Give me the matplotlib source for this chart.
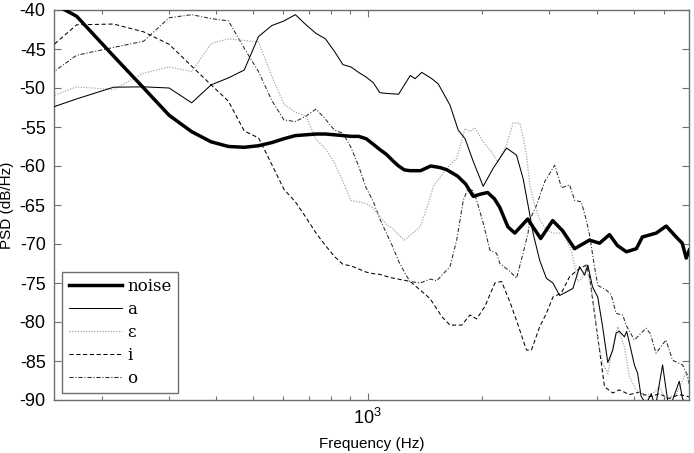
import matplotlib
matplotlib.use('Agg')
import matplotlib.pyplot as plt
from matplotlib.ticker import FixedLocator, NullFormatter

plt.rcParams['font.family'] = ['Liberation Sans', 'DejaVu Sans']
plt.rcParams['axes.unicode_minus'] = False

# ---- data (frequency in Hz, PSD in dB/Hz) ----
freq_noise = [129, 172, 215, 258, 301, 345, 388, 431, 474, 517, 560, 603, 646, 689, 732, 775, 818, 861, 904, 947,
              991, 1034, 1077, 1120, 1163, 1206, 1249, 1292, 1378, 1464, 1550, 1617, 1723, 1809, 1895, 1981, 2067,
              2153, 2224, 2336, 2436, 2634, 2849, 3063, 3253, 3498, 3828, 4067, 4318, 4532, 4784, 5082, 5270, 5732,
              6088, 6465, 6707, 6871, 6997]
psd_noise = [-37.5, -40.8, -45.9, -50.0, -53.5, -55.6, -56.9, -57.5, -57.6, -57.4, -57.0, -56.5, -56.1, -56.0, -55.9,
             -55.9, -56.0, -56.1, -56.2, -56.2, -56.5, -57.2, -57.9, -58.5, -59.3, -60.0, -60.5, -60.6, -60.6, -60.0,
             -60.2, -60.5, -61.3, -62.3, -63.9, -63.6, -63.4, -64.2, -65.3, -67.8, -68.6, -66.8, -69.3, -67.0, -68.3,
             -70.6, -69.5, -69.9, -68.8, -70.2, -71.0, -70.6, -69.1, -68.6, -67.7, -69.1, -69.9, -71.8, -70.8]

freq_a = [129, 172, 215, 258, 301, 345, 388, 431, 474, 517, 560, 603, 646, 689, 732, 775, 818, 861, 904, 947,
          991, 1034, 1077, 1124, 1206, 1294, 1333, 1388, 1474, 1534, 1646, 1730, 1803, 1894, 2012, 2137, 2317, 2461,
          2561, 2639, 2720, 2832, 2949, 3068, 3195, 3313, 3462, 3605, 3716, 3789, 3898, 4024, 4140, 4276, 4406, 4497,
          4587, 4727, 4793, 4921, 5021, 5122, 5228, 5388, 5563, 5699, 5955, 6138, 6276, 6587, 6719, 6869, 6995]
psd_a = [-53.5, -51.4, -49.9, -49.85, -50.0, -51.9, -49.6, -48.7, -47.7, -43.4, -42.0, -41.4, -40.6, -41.9, -43.0,
         -43.7, -45.3, -47.0, -47.3, -48.0, -48.6, -49.3, -50.6, -50.7, -50.8, -48.4, -48.8, -48.0, -48.8, -49.5,
         -52.2, -55.4, -56.5, -59.4, -62.6, -60.3, -57.7, -58.6, -61.6, -65.0, -68.6, -72.1, -74.4, -75.0, -76.6,
         -76.2, -75.7, -72.9, -74.0, -72.7, -75.5, -76.8, -80.5, -85.2, -83.6, -81.4, -81.2, -81.9, -81.2, -83.6,
         -85.5, -86.6, -89.5, -90.5, -89.2, -91.0, -85.5, -90.0, -90.5, -87.6, -89.8, -91.0, -92.0]

freq_e = [129, 172, 215, 258, 301, 345, 388, 431, 474, 517, 560, 603, 646, 689, 732, 775, 818, 861, 904, 947,
          991, 1034, 1077, 1120, 1163, 1206, 1249, 1292, 1374, 1444, 1489, 1614, 1714, 1803, 1857, 1914, 2012, 2117,
          2198, 2317, 2411, 2510, 2561, 2614, 2667, 2748, 2832, 2949, 3068, 3259, 3428, 3568, 3648, 3753, 3867, 3945,
          4024, 4148, 4276, 4406, 4540, 4727, 4872, 5073, 5333, 5664, 5837, 6053, 6454, 6857, 6995]
psd_e = [-52.2, -49.85, -50.2, -48.1, -47.3, -47.9, -44.3, -43.7, -43.9, -44.1, -48.5, -52.1, -53.1, -53.6, -56.6,
         -57.8, -59.6, -62.0, -64.4, -64.6, -64.8, -65.4, -66.5, -67.5, -68.0, -68.8, -69.5, -68.9, -67.8, -64.8,
         -62.6, -60.3, -59.0, -55.2, -55.6, -55.1, -56.9, -58.2, -59.5, -57.3, -54.5, -54.5, -56.2, -58.6, -62.4,
         -65.0, -66.9, -68.2, -68.6, -68.6, -70.8, -74.8, -74.5, -72.9, -75.5, -78.5, -82.3, -85.3, -86.6, -83.2,
         -80.6, -83.2, -87.0, -88.7, -89.5, -89.0, -88.3, -89.8, -89.3, -86.6, -88.0]

freq_i = [129, 172, 215, 258, 301, 345, 388, 431, 474, 517, 560, 603, 646, 689, 732, 775, 818, 861, 904, 947,
          991, 1034, 1077, 1147, 1294, 1459, 1566, 1646, 1767, 1857, 1934, 2033, 2160, 2248, 2364, 2485, 2614, 2694,
          2832, 2949, 3068, 3227, 3393, 3568, 3753, 3828, 3945, 4067, 4191, 4406, 4587, 4872, 5175, 5497, 5837, 6201,
          6587, 6995]
psd_i = [-47.2, -41.9, -41.8, -42.8, -44.4, -47.2, -49.6, -51.7, -55.5, -56.4, -59.8, -63.0, -64.6, -66.6, -68.6,
         -70.2, -71.6, -72.6, -72.8, -73.2, -73.6, -73.8, -73.9, -74.3, -74.8, -77.0, -79.3, -80.4, -80.4, -79.1,
         -79.6, -78.0, -75.0, -74.8, -77.4, -80.4, -83.6, -83.6, -80.6, -78.9, -76.8, -76.3, -74.2, -73.3, -72.7,
         -74.2, -78.9, -83.6, -88.3, -89.1, -88.7, -89.3, -89.0, -89.6, -89.2, -89.8, -89.3, -89.6]

freq_o = [129, 172, 215, 258, 301, 345, 388, 431, 474, 517, 560, 603, 646, 689, 732, 775, 818, 861, 904, 947,
          991, 1034, 1077, 1120, 1163, 1206, 1249, 1292, 1374, 1459, 1519, 1646, 1714, 1784, 1824, 1857, 1894, 1934,
          2012, 2096, 2182, 2225, 2364, 2461, 2561, 2639, 2667, 2781, 2919, 3101, 3233, 3393, 3498, 3642, 3753, 3828,
          3945, 4024, 4234, 4364, 4497, 4680, 4776, 5021, 5388, 5530, 5723, 6079, 6324, 6719, 6923, 6995]
psd_o = [-50.2, -45.8, -44.8, -44.0, -41.0, -40.6, -41.1, -41.4, -44.9, -47.9, -51.6, -54.1, -54.3, -53.6, -52.7,
         -54.0, -55.4, -55.8, -57.6, -60.0, -62.8, -64.5, -66.8, -68.6, -70.3, -72.2, -73.6, -74.8, -75.0, -74.5,
         -74.7, -72.9, -69.5, -64.4, -63.2, -63.0, -63.2, -64.4, -67.3, -70.8, -71.2, -72.5, -73.5, -74.4, -71.2,
         -68.6, -66.9, -65.0, -62.0, -59.9, -62.8, -62.4, -64.4, -64.6, -66.9, -68.8, -72.9, -75.3, -75.9, -76.5,
         -78.9, -79.1, -80.4, -82.3, -80.8, -81.5, -84.0, -82.3, -84.9, -85.5, -86.8, -88.0]

series_labels = ['noise', 'a', 'ε', 'i', 'o']
y_ticks = [-90, -85, -80, -75, -70, -65, -60, -55, -50, -45, -40]
x_major = [1000]
x_minor = [200, 300, 400, 500, 600, 700, 800, 900, 2000, 3000, 4000, 5000, 6000]
x_limits = (150, 7000)
y_limits = (-90, -40)

# ---- figure ----
fig = plt.figure(figsize=(6.94, 4.53), dpi=100)
ax = fig.add_axes([54 / 694, 53 / 453, 635.3 / 694, 390 / 453])

ax.semilogx(freq_noise, psd_noise, color='black', lw=2.5, label=series_labels[0], zorder=6)
ax.semilogx(freq_a, psd_a, color='black', lw=0.75, label=series_labels[1], zorder=5)
ax.semilogx(freq_e, psd_e, color='#a8a8a8', lw=0.9, ls=(0, (1, 1.2)), label=series_labels[2], zorder=4)
ax.semilogx(freq_i, psd_i, color='black', lw=0.75, ls=(0, (4, 2.5)), label=series_labels[3], zorder=3)
ax.semilogx(freq_o, psd_o, color='#2a2a2a', lw=0.75, ls=(0, (4, 1.8, 1, 1.8)), label=series_labels[4], zorder=3)

ax.set_xlim(*x_limits)
ax.set_ylim(*y_limits)
ax.set_yticks(y_ticks)
ax.set_yticklabels([str(v) for v in y_ticks])
ax.xaxis.set_major_locator(FixedLocator(x_major))
ax.xaxis.set_minor_locator(FixedLocator(x_minor))
ax.xaxis.set_minor_formatter(NullFormatter())

for sp in ax.spines.values():
    sp.set_color('#6e6e6e')
    sp.set_linewidth(1.0)

ax.tick_params(which='major', direction='in', top=True, right=True, length=5, width=0.8,
               color='#6e6e6e', labelsize=13, pad=6)
ax.tick_params(which='minor', direction='in', top=True, right=True, length=3, width=0.8,
               color='#6e6e6e')

ax.set_xlabel('Frequency (Hz)', fontsize=11, labelpad=6)
ax.set_ylabel('PSD (dB/Hz)', fontsize=11, labelpad=4)

leg = ax.legend(loc='lower left', bbox_to_anchor=(8.3 / 635.3, 6.7 / 390), borderaxespad=0,
                prop={'family': 'DejaVu Serif', 'size': 12}, fancybox=False, framealpha=1,
                edgecolor='#6e6e6e', handlelength=3.2, handletextpad=0.3, labelspacing=0.35,
                borderpad=0.4)
leg.get_frame().set_linewidth(1.0)

fig.savefig('out.png', dpi=100)
